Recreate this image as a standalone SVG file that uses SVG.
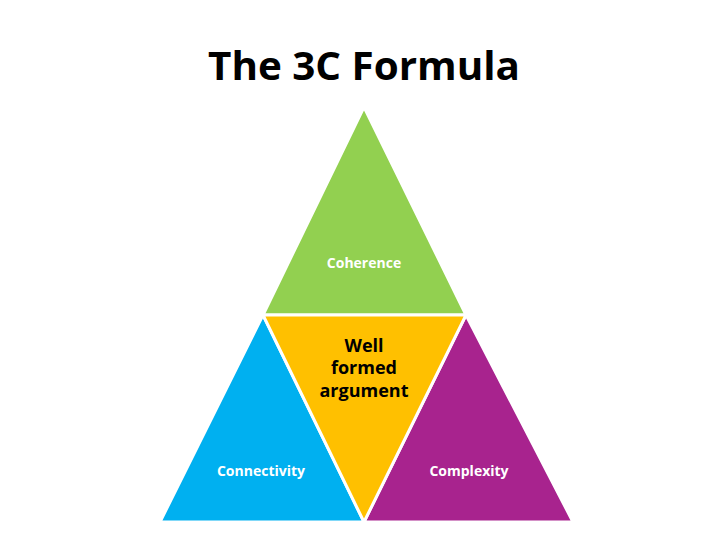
<svg xmlns="http://www.w3.org/2000/svg" width="728" height="546" viewBox="0 0 728 546">
<style>
.tri{stroke:#fff;stroke-width:3;stroke-linejoin:miter}
.lbl{font-family:"Open Sans","Liberation Sans",sans-serif;font-weight:bold;text-anchor:middle}
.w{fill:#fff;font-size:14px}
.b{fill:#000;font-size:18px}
</style>
<rect width="728" height="546" fill="#fff"/>
<text x="364" y="80" class="lbl" font-size="40" textLength="312" lengthAdjust="spacingAndGlyphs" fill="#000">The 3C Formula</text>
<g id="coherence">
<polygon class="tri" points="364,107 263,315 466,315" fill="#92D050"/>
<text x="364" y="268" class="lbl w">Coherence</text>
</g>
<g id="connectivity">
<polygon class="tri" points="263,315 160,522 364,522" fill="#00B0F0"/>
<text x="261" y="476" class="lbl w">Connectivity</text>
</g>
<g id="complexity">
<polygon class="tri" points="466,315 364,522 573,522" fill="#A8238E"/>
<text x="469" y="476" class="lbl w">Complexity</text>
</g>
<g id="argument">
<polygon class="tri" points="263,315 466,315 364,522" fill="#FFC000"/>
<text x="364" y="352" class="lbl b">Well</text>
<text x="364" y="374" class="lbl b">formed</text>
<text x="364" y="397" class="lbl b">argument</text>
</g>
<g id="connectors"/>
</svg>
